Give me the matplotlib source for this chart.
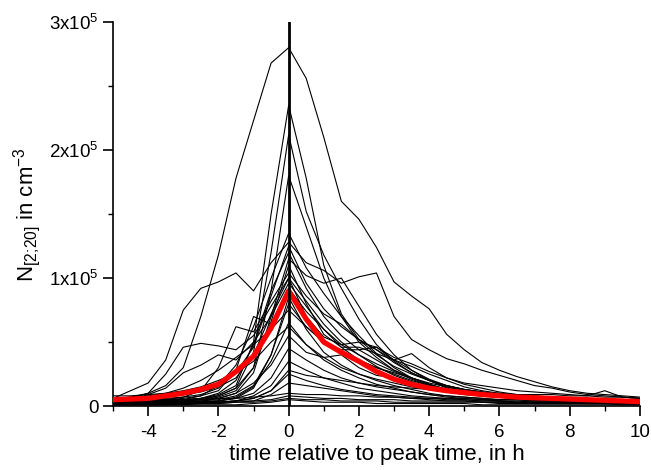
import matplotlib
matplotlib.use("Agg")
import matplotlib.pyplot as plt
from matplotlib.ticker import MultipleLocator, FixedLocator, FixedFormatter

plt.rcParams["font.family"] = ["Liberation Sans", "DejaVu Sans"]
plt.rcParams["mathtext.fontset"] = "custom"
plt.rcParams["mathtext.rm"] = "Liberation Sans"
plt.rcParams["mathtext.it"] = "Liberation Sans:italic"
plt.rcParams["axes.unicode_minus"] = False

# ── Data (concentrations in 1e3 cm^-3) ─────────────────────────
hours = [-5, -4.5, -4, -3.5, -3, -2.5, -2, -1.5, -1, -0.5, 0, 0.5, 1, 1.5, 2,
         2.5, 3, 3.5, 4, 4.5, 5, 5.5, 6, 6.5, 7, 7.5, 8, 8.5, 9, 9.5, 10]

ev01 = [5, 7, 10, 16, 30, 70, 118, 178, 223, 268, 280, 256, 210, 160, 146, 124, 97, 86, 76, 56, 44, 34, 28, 23, 19, 15, 12, 10, 9, 8, 7]
ev02 = [6, 12, 18, 36, 75, 92, 97, 104, 90, 112, 128, 112, 106, 96, 101, 104, 70, 52, 44, 37, 33, 28, 24, 20, 16, 14, 11, 9, 8, 7, 6]
ev03 = [3, 3, 4, 4, 5, 6, 9, 16, 50, 150, 235, 178, 110, 72, 52, 40, 31, 25, 20, 16, 13, 11, 9, 8, 7, 6, 6, 5, 5, 4, 4]
ev04 = [2, 2, 3, 3, 4, 5, 8, 14, 42, 120, 212, 152, 118, 92, 68, 48, 35, 26, 20, 15, 12, 10, 8, 7, 6, 5, 5, 4, 4, 4, 3]
ev05 = [3, 3, 3, 4, 4, 5, 7, 12, 30, 90, 180, 140, 100, 70, 50, 38, 28, 22, 17, 13, 11, 9, 8, 7, 6, 5, 5, 4, 4, 4, 3]
ev06 = [4, 6, 10, 25, 46, 49, 47, 44, 55, 78, 100, 82, 64, 50, 40, 31, 24, 19, 15, 12, 10, 9, 8, 7, 6, 6, 5, 5, 4, 4, 4]
ev07 = [3, 5, 9, 14, 26, 32, 40, 36, 50, 70, 96, 78, 60, 48, 40, 33, 27, 21, 16, 13, 10, 9, 8, 7, 6, 5, 5, 4, 4, 3, 3]
ev08 = [3, 3, 3, 4, 5, 8, 16, 32, 62, 100, 135, 108, 88, 70, 55, 41, 30, 22, 17, 13, 10, 8, 7, 6, 5, 5, 4, 4, 4, 3, 3]
ev09 = [5, 5, 6, 6, 7, 9, 14, 26, 46, 86, 125, 96, 76, 62, 52, 44, 36, 28, 21, 16, 13, 11, 9, 8, 7, 6, 6, 5, 5, 5, 4]
ev10 = [2, 2, 2, 3, 3, 4, 6, 10, 26, 70, 115, 102, 96, 100, 78, 56, 40, 28, 20, 14, 11, 9, 7, 6, 5, 5, 4, 4, 3, 3, 3]
ev11 = [4, 4, 4, 5, 5, 6, 8, 14, 30, 66, 110, 80, 56, 46, 46, 41, 36, 31, 25, 20, 15, 12, 10, 8, 7, 6, 6, 5, 5, 4, 4]
ev12 = [6, 7, 7, 8, 9, 11, 15, 22, 40, 72, 100, 70, 54, 48, 50, 46, 38, 33, 27, 22, 18, 16, 14, 12, 11, 10, 9, 8, 7, 7, 6]
ev13 = [2, 2, 3, 3, 3, 4, 5, 8, 16, 40, 80, 62, 50, 44, 44, 46, 36, 41, 30, 22, 17, 14, 11, 9, 8, 7, 6, 5, 5, 4, 4]
ev14 = [2, 2, 2, 2, 3, 3, 4, 6, 14, 40, 85, 60, 42, 32, 25, 20, 16, 13, 10, 8, 7, 6, 5, 5, 4, 4, 3, 3, 3, 3, 2]
ev15 = [5, 6, 8, 10, 14, 20, 28, 38, 48, 60, 75, 62, 50, 42, 36, 30, 25, 20, 16, 13, 11, 9, 8, 7, 6, 6, 5, 5, 4, 4, 4]
ev16 = [1, 1, 1, 2, 2, 3, 4, 7, 15, 35, 65, 48, 36, 28, 22, 17, 14, 11, 9, 7, 6, 5, 4, 4, 3, 3, 3, 2, 2, 2, 2]
ev17 = [3, 3, 3, 4, 4, 5, 6, 10, 18, 32, 55, 42, 38, 40, 30, 24, 22, 18, 14, 11, 9, 8, 7, 6, 5, 5, 4, 4, 4, 3, 3]
ev18 = [2, 2, 2, 2, 3, 3, 4, 6, 10, 22, 45, 36, 28, 22, 18, 15, 13, 11, 9, 8, 7, 6, 5, 5, 4, 4, 4, 3, 3, 3, 3]
ev19 = [1, 1, 1, 1, 2, 2, 3, 4, 8, 16, 35, 28, 22, 18, 14, 12, 10, 8, 7, 6, 5, 4, 4, 3, 3, 3, 2, 2, 2, 2, 2]
ev20 = [2, 2, 2, 2, 2, 3, 3, 4, 6, 12, 25, 20, 16, 13, 11, 9, 8, 7, 6, 5, 5, 4, 4, 3, 3, 3, 3, 2, 2, 2, 2]
ev21 = [1, 1, 1, 1, 1, 2, 2, 3, 4, 9, 18, 16, 14, 12, 10, 8, 7, 6, 5, 4, 4, 3, 3, 3, 2, 2, 2, 2, 2, 1, 1]
ev22 = [3, 3, 3, 3, 3, 3, 3, 4, 4, 5, 8, 7, 6, 6, 5, 5, 5, 4, 4, 4, 4, 3, 3, 3, 3, 3, 3, 3, 3, 3, 3]
ev23 = [1, 1, 1, 1, 1, 1, 1, 1, 2, 3, 5, 4, 3, 3, 3, 2, 2, 2, 2, 2, 2, 1, 1, 1, 1, 1, 1, 1, 1, 1, 1]
ev24 = [8, 8, 9, 10, 12, 15, 20, 26, 35, 50, 62, 48, 38, 30, 25, 21, 18, 15, 13, 11, 10, 9, 8, 7, 7, 6, 6, 5, 5, 5, 5]
ev25 = [2, 2, 2, 2, 2, 3, 3, 4, 6, 12, 28, 24, 22, 20, 18, 16, 15, 14, 13, 12, 11, 10, 10, 9, 9, 9, 8, 8, 12, 7, 6]
ev26 = [2, 2, 3, 3, 4, 6, 10, 20, 48, 90, 120, 92, 70, 55, 44, 36, 28, 22, 17, 13, 11, 9, 8, 7, 6, 5, 5, 4, 4, 4, 3]
ev27 = [3, 3, 4, 5, 7, 12, 30, 62, 58, 82, 104, 86, 72, 64, 52, 44, 34, 26, 20, 16, 13, 11, 9, 8, 7, 6, 5, 5, 4, 4, 4]
ev28 = [4, 4, 5, 5, 6, 8, 12, 28, 70, 64, 92, 74, 60, 46, 36, 30, 26, 22, 18, 15, 12, 10, 9, 8, 7, 7, 6, 6, 5, 5, 5]
ev29 = [6, 6, 5, 5, 5, 5, 6, 6, 7, 8, 10, 9, 9, 8, 8, 7, 7, 6, 6, 6, 6, 5, 5, 5, 5, 5, 5, 4, 4, 4, 4]
ev30 = [2, 2, 2, 2, 2, 2, 2, 3, 3, 4, 6, 5, 5, 4, 4, 4, 3, 3, 3, 3, 3, 3, 2, 2, 2, 2, 2, 2, 2, 2, 2]

events = [ev01, ev02, ev03, ev04, ev05, ev06, ev07, ev08, ev09, ev10, ev11, ev12, ev13,
          ev14, ev15, ev16, ev17, ev18, ev19, ev20, ev21, ev22, ev23, ev24, ev25, ev26,
          ev27, ev28, ev29, ev30]

mean_curve = [5, 5.5, 6, 8, 10, 13, 17, 27, 39, 61, 90, 68, 50, 42, 35, 27, 21, 17, 14, 12,
              10.5, 9, 8, 7, 6.5, 6, 5.5, 5, 4.5, 4, 3.5]

y_ticks = [0, 1e5, 2e5, 3e5]
y_ticklabels = ["0", "1x10$^5$", "2x10$^5$", "3x10$^5$"]

# ── Figure ─────────────────────────────────────────────────────
fig = plt.figure(figsize=(6.51, 4.70), dpi=100)
ax = fig.add_axes([0.1736, 0.136, 0.8094, 0.817])

for ev in events:
    ax.plot(hours, [v * 1e3 for v in ev], color="black", lw=0.8, zorder=2)

ax.plot(hours, [v * 1e3 for v in mean_curve], color="#ff0000", lw=3.8,
        solid_capstyle="round", zorder=3)
ax.axvline(0, color="black", lw=2.0, zorder=4)

ax.set_xlim(-5, 10)
ax.set_ylim(0, 3e5)

for side in ("top", "right"):
    ax.spines[side].set_visible(False)
for side in ("left", "bottom"):
    ax.spines[side].set_linewidth(1.2)

ax.xaxis.set_major_locator(MultipleLocator(2))
ax.xaxis.set_minor_locator(MultipleLocator(1))
ax.yaxis.set_major_locator(FixedLocator(y_ticks))
ax.yaxis.set_major_formatter(FixedFormatter(y_ticklabels))
ax.yaxis.set_minor_locator(MultipleLocator(0.5e5))
ax.tick_params(which="major", direction="out", length=7, width=1.2, labelsize=13.5)
ax.tick_params(axis="x", which="major", pad=6)
ax.tick_params(which="minor", direction="out", length=3.5, width=1.0)

ax.set_xlabel("time relative to peak time, in h", fontsize=16, labelpad=2)
ax.set_ylabel(r"N$_{[2;\!20]}$ in cm$^{-3}$", fontsize=16, labelpad=4)

plt.savefig("out.png", dpi=100)
plt.close()
